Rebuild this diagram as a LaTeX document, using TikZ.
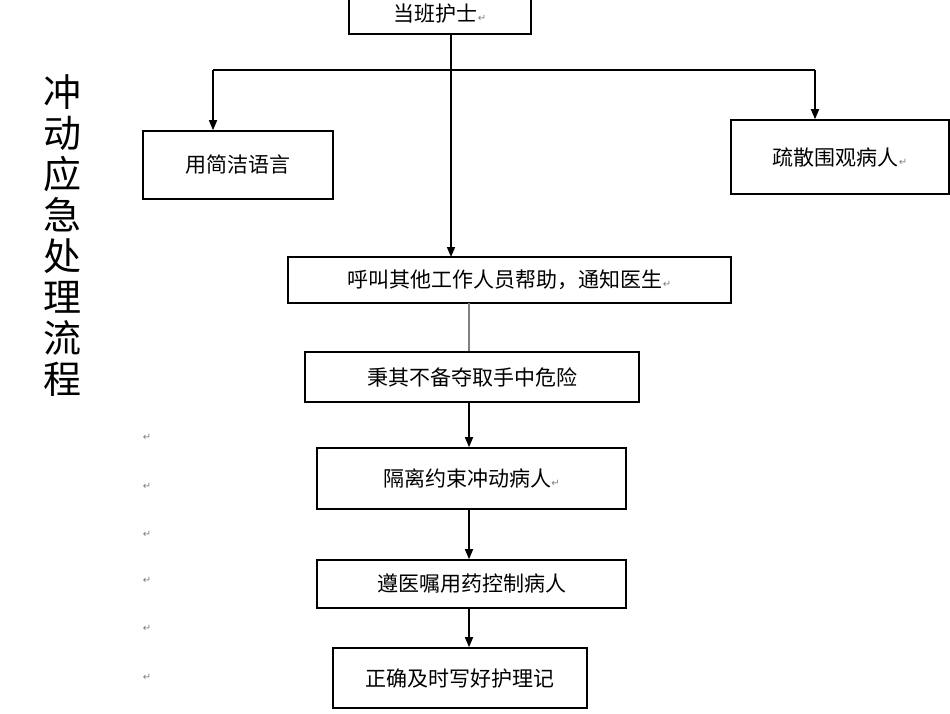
\documentclass[tikz,border=0pt]{standalone}
\usepackage{fontspec}
\setmainfont{Noto Sans CJK SC}
\newfontfamily\symf{DejaVu Sans}
\usetikzlibrary{arrows.meta}
\newcommand{\rt}{{\symf\fontsize{10}{10}\selectfont\textcolor{gray}{↵}}}
\begin{document}
\begin{tikzpicture}[x=1pt,y=-1pt,
  bx/.style={draw,line width=1.6pt,inner sep=0pt,font=\fontsize{21}{21}\selectfont},
  ar/.style={line width=1.6pt,-{Triangle[length=10pt,width=8pt]}},
  rm/.style={font=\symf\fontsize{10}{10}\selectfont,text=gray}]
\path[use as bounding box] (0,0) rectangle (950,713);
\node[bx,minimum width=182pt,minimum height=40pt] (a) at (440,14) {当班护士\rt};
\node[bx,minimum width=190pt,minimum height=68pt] (b) at (238,165) {用简洁语言};
\node[bx,minimum width=218pt,minimum height=74pt] (c) at (840,157) {疏散围观病人\rt};
\node[bx,minimum width=443pt,minimum height=46pt] (d) at (509.5,280) {呼叫其他工作人员帮助，通知医生\rt};
\node[bx,minimum width=334pt,minimum height=50pt] (e) at (472,377) {秉其不备夺取手中危险};
\node[bx,minimum width=309pt,minimum height=61pt] (f) at (471.5,478.5) {隔离约束冲动病人\rt};
\node[bx,minimum width=309pt,minimum height=48pt] (g) at (471.5,584) {遵医嘱用药控制病人};
\node[bx,minimum width=254pt,minimum height=60pt] (h) at (460,678) {正确及时写好护理记};
\coordinate (j) at (451,70);
\coordinate (jl) at (213,70);
\coordinate (jr) at (815,70);
\draw[line width=1.6pt] (jl) -- (jr);
\draw[ar] (451,34) -- (451,257);
\draw[ar] (jl) -- (b.north -| jl);
\draw[ar] (jr) -- (c.north -| jr);
\draw[line width=2pt,gray] (469,303) -- (e.north -| 469,0);
\draw[ar] (e.south -| 469,0) -- (f.north -| 469,0);
\draw[ar] (f.south -| 469,0) -- (g.north -| 469,0);
\draw[ar] (g.south -| 469,0) -- (h.north -| 469,0);
\node[font=\fontsize{38}{41}\selectfont\addfontfeatures{FakeStretch=1.0},align=center,inner sep=0pt] (t) at (62,236) {冲\\动\\应\\急\\处\\理\\流\\程};
\foreach \yy [count=\i] in {437,486,534,580,628,677} \node[rm] (r\i) at (147,\yy) {↵};
\end{tikzpicture}
\end{document}
